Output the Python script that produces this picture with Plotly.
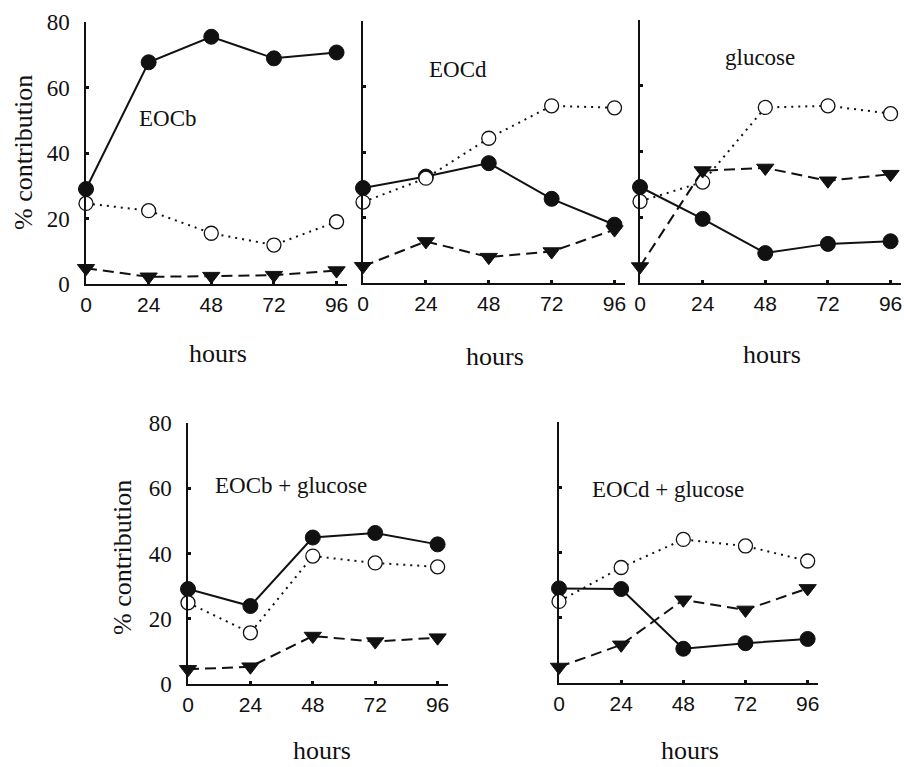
import plotly.graph_objects as go

# ---------------- data ----------------
hours = [0, 24, 48, 72, 96]
x_tick_vals = [0, 24, 48, 72, 96]
y_tick_vals = [0, 20, 40, 60, 80]
panel_names = ["EOCb", "EOCd", "glucose", "EOCb + glucose", "EOCd + glucose"]

# filled circles (solid line)
filled_EOCb = [29.0, 67.7, 75.5, 68.9, 70.7]
filled_EOCd = [29.0, 32.5, 36.6, 25.7, 17.8]
filled_glucose = [29.2, 19.5, 9.1, 11.9, 12.7]
filled_EOCb_glc = [29.1, 23.9, 44.9, 46.3, 42.8]
filled_EOCd_glc = [29.0, 28.8, 10.5, 12.2, 13.5]

# open circles (dotted line)
open_EOCb = [24.6, 22.4, 15.5, 11.9, 19.0]
open_EOCd = [24.7, 32.0, 44.2, 54.1, 53.5]
open_glucose = [24.8, 30.7, 53.4, 53.9, 51.5]
open_EOCb_glc = [24.9, 15.7, 39.2, 37.1, 35.9]
open_EOCd_glc = [25.0, 35.4, 44.0, 42.0, 37.4]

# filled down-triangles (dashed line)
tri_EOCb = [4.8, 2.2, 2.4, 2.7, 4.1]
tri_EOCd = [5.1, 12.7, 7.9, 9.6, 16.3]
tri_glucose = [5.0, 34.2, 35.0, 31.1, 33.1]
tri_EOCb_glc = [4.5, 5.3, 14.7, 13.0, 14.2]
tri_EOCd_glc = [4.9, 11.7, 25.5, 22.4, 29.0]

filled_all = [filled_EOCb, filled_EOCd, filled_glucose, filled_EOCb_glc, filled_EOCd_glc]
open_all = [open_EOCb, open_EOCd, open_glucose, open_EOCb_glc, open_EOCd_glc]
tri_all = [tri_EOCb, tri_EOCd, tri_glucose, tri_EOCb_glc, tri_EOCd_glc]

# ---------------- layout geometry (pixels) ----------------
W, H = 904, 767
# (left, right, top, bottom) in pixels
boxes = [
    (86, 347, 22, 284),
    (363, 625, 21, 283),
    (640, 901, 20, 283),
    (188, 448, 423, 684),
    (559, 818, 422, 683),
]
show_y_labels = [True, False, False, True, False]
label_pos = [(137, 119), (427, 70), (723, 57), (213, 486), (590, 490)]
# (x center, y, yanchor)
hours_pos = [(218, 353, "middle"), (495, 357, "middle"), (772, 354, "middle"),
             (322, 767, "bottom"), (690, 767, "bottom")]
ytitle_pos = [(23, 153), (122, 557)]

SERIF = "Liberation Serif, Times New Roman, serif"
SANS = "Liberation Sans, Arial, sans-serif"
INK = "#111111"

fig = go.Figure()
layout = dict(
    width=W, height=H, autosize=False,
    margin=dict(l=0, r=0, t=0, b=0, pad=0, autoexpand=False),
    paper_bgcolor="white", plot_bgcolor="white",
    showlegend=False,
)
annotations = []

for i in range(5):
    l, r, t, b = boxes[i]
    xa = "xaxis" if i == 0 else f"xaxis{i+1}"
    ya = "yaxis" if i == 0 else f"yaxis{i+1}"
    xr = "x" if i == 0 else f"x{i+1}"
    yr = "y" if i == 0 else f"y{i+1}"
    layout[xa] = dict(
        domain=[l / W, r / W], anchor=yr, range=[0, 100],
        showline=True, linecolor=INK, linewidth=1.5,
        ticks="inside", ticklen=3, tickwidth=2.5, tickcolor=INK,
        tickvals=x_tick_vals, showgrid=False, zeroline=False,
        tickfont=dict(family=SANS, size=21, color=INK),
        ticklabelstandoff=1, automargin=False,
    )
    layout[ya] = dict(
        domain=[1 - b / H, 1 - t / H], anchor=xr, range=[0, 80],
        showline=True, linecolor=INK, linewidth=1.5,
        ticks="inside", ticklen=3, tickwidth=2.5, tickcolor=INK,
        tickvals=y_tick_vals, showgrid=False, zeroline=False,
        showticklabels=show_y_labels[i],
        tickfont=dict(family=SERIF, size=23, color=INK),
        ticklabelstandoff=10, automargin=False,
    )

    fig.add_trace(go.Scatter(
        x=hours, y=filled_all[i], xaxis=xr, yaxis=yr, mode="lines+markers",
        line=dict(color=INK, width=2),
        marker=dict(symbol="circle", size=15, color=INK, line=dict(color=INK, width=1)),
        cliponaxis=False,
    ))
    fig.add_trace(go.Scatter(
        x=hours, y=open_all[i], xaxis=xr, yaxis=yr, mode="lines+markers",
        line=dict(color=INK, width=2, dash="2px,5px"),
        marker=dict(symbol="circle", size=14, color="white", line=dict(color=INK, width=1.3)),
        cliponaxis=False,
    ))
    fig.add_trace(go.Scatter(
        x=hours, y=tri_all[i], xaxis=xr, yaxis=yr, mode="lines+markers",
        line=dict(color=INK, width=2, dash="11px,6px"),
        marker=dict(symbol="triangle-down", size=15, color=INK, line=dict(color=INK, width=1)),
        cliponaxis=False,
    ))

    lx, ly = label_pos[i]
    annotations.append(dict(
        text=panel_names[i], x=lx / W, y=1 - ly / H, xref="paper", yref="paper",
        xanchor="left", yanchor="middle", showarrow=False,
        font=dict(family=SERIF, size=23, color=INK),
    ))
    hx, hy, ha = hours_pos[i]
    annotations.append(dict(
        text="hours", x=hx / W, y=1 - hy / H, xref="paper", yref="paper",
        xanchor="center", yanchor=ha, showarrow=False,
        font=dict(family=SERIF, size=26, color=INK),
    ))

for (tx, ty) in ytitle_pos:
    annotations.append(dict(
        text="% contribution", x=tx / W, y=1 - ty / H, xref="paper", yref="paper",
        xanchor="center", yanchor="middle", showarrow=False, textangle=-90,
        font=dict(family=SERIF, size=26, color=INK),
    ))

layout["annotations"] = annotations
fig.update_layout(**layout)
fig.write_html("out.html")
